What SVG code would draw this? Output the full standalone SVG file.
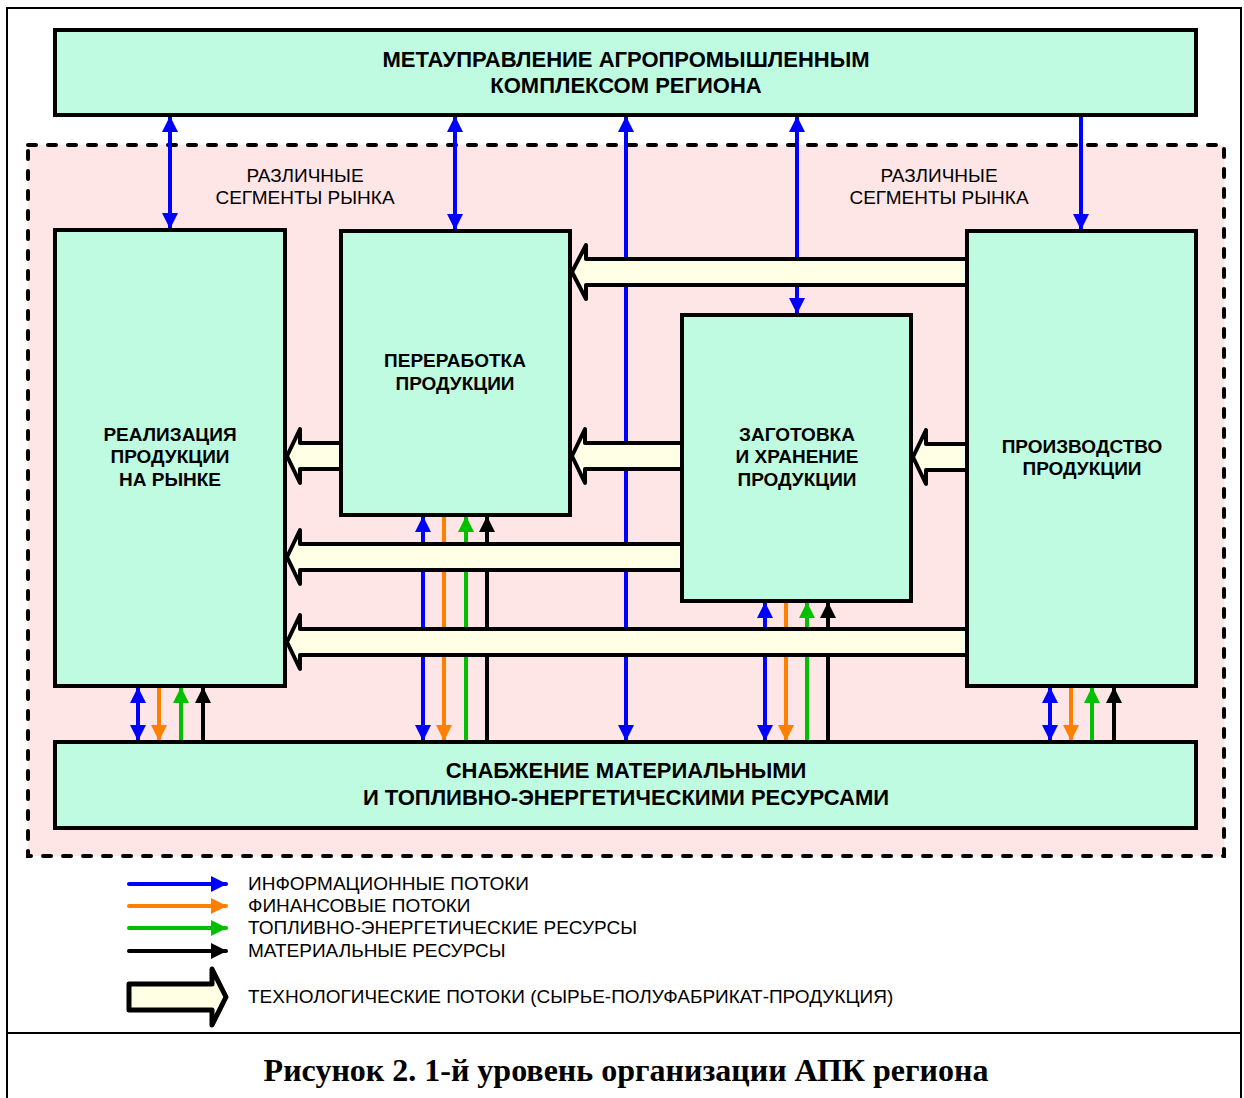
<svg xmlns="http://www.w3.org/2000/svg" width="1244" height="1098" viewBox="0 0 1244 1098">
<defs>
<style>
.box{fill:#BFFBE0;stroke:#000;stroke-width:4}
.tech{fill:#FFFFE6;stroke:#000;stroke-width:4;stroke-linejoin:round}
.bl{font-family:"Liberation Sans",Arial,sans-serif;font-weight:bold;font-size:19px;text-anchor:middle;fill:#000}
.big{font-size:22px}
.rg{font-family:"Liberation Sans",Arial,sans-serif;font-size:19px;fill:#000}
.ctr{text-anchor:middle}
.a{fill:none;stroke-width:4}
.b{stroke:#0000FF}.o{stroke:#FF8000}.g{stroke:#00C000}.k{stroke:#000}
</style>
<marker id="mb" viewBox="0 0 16 16" refX="15" refY="8" markerWidth="16" markerHeight="16" markerUnits="userSpaceOnUse" orient="auto-start-reverse"><path d="M0,0 L16,8 L0,16 z" fill="#0000FF"/></marker>
<marker id="mo" viewBox="0 0 16 16" refX="15" refY="8" markerWidth="16" markerHeight="16" markerUnits="userSpaceOnUse" orient="auto-start-reverse"><path d="M0,0 L16,8 L0,16 z" fill="#FF8000"/></marker>
<marker id="mg" viewBox="0 0 16 16" refX="15" refY="8" markerWidth="16" markerHeight="16" markerUnits="userSpaceOnUse" orient="auto-start-reverse"><path d="M0,0 L16,8 L0,16 z" fill="#00C000"/></marker>
<marker id="mk" viewBox="0 0 16 16" refX="15" refY="8" markerWidth="16" markerHeight="16" markerUnits="userSpaceOnUse" orient="auto-start-reverse"><path d="M0,0 L16,8 L0,16 z" fill="#000"/></marker>
</defs>
<rect x="0" y="0" width="1244" height="1098" fill="#fff"/>
<rect x="7" y="8" width="1234" height="1095" fill="none" stroke="#000" stroke-width="2"/>
<line x1="7" y1="1033" x2="1241" y2="1033" stroke="#000" stroke-width="2"/>
<rect id="region" x="28" y="145" width="1196" height="711" fill="#FFE6E6" stroke="#000" stroke-width="4" stroke-dasharray="8 12" stroke-linecap="round"/>
<text class="rg ctr" x="305" y="182">РАЗЛИЧНЫЕ</text>
<text class="rg ctr" x="305" y="204">СЕГМЕНТЫ РЫНКА</text>
<text class="rg ctr" x="939" y="182">РАЗЛИЧНЫЕ</text>
<text class="rg ctr" x="939" y="204">СЕГМЕНТЫ РЫНКА</text>
<g id="connectors">
<line class="a b" x1="170" y1="117" x2="170" y2="228" marker-start="url(#mb)" marker-end="url(#mb)"/>
<line class="a b" x1="455" y1="117" x2="455" y2="229" marker-start="url(#mb)" marker-end="url(#mb)"/>
<line class="a b" x1="626" y1="117" x2="626" y2="740" marker-start="url(#mb)" marker-end="url(#mb)"/>
<line class="a b" x1="797" y1="117" x2="797" y2="313" marker-start="url(#mb)" marker-end="url(#mb)"/>
<line class="a b" x1="1081" y1="117" x2="1081" y2="229" marker-end="url(#mb)"/>
<line class="a b" x1="138" y1="688" x2="138" y2="740" marker-start="url(#mb)" marker-end="url(#mb)"/>
<line class="a o" x1="159" y1="688" x2="159" y2="740" marker-end="url(#mo)"/>
<line class="a g" x1="181" y1="740" x2="181" y2="688" marker-end="url(#mg)"/>
<line class="a k" x1="203" y1="740" x2="203" y2="688" marker-end="url(#mk)"/>
<line class="a b" x1="423" y1="517" x2="423" y2="740" marker-start="url(#mb)" marker-end="url(#mb)"/>
<line class="a o" x1="444" y1="517" x2="444" y2="740" marker-end="url(#mo)"/>
<line class="a g" x1="466" y1="740" x2="466" y2="517" marker-end="url(#mg)"/>
<line class="a k" x1="487" y1="740" x2="487" y2="517" marker-end="url(#mk)"/>
<line class="a b" x1="765" y1="603" x2="765" y2="740" marker-start="url(#mb)" marker-end="url(#mb)"/>
<line class="a o" x1="786" y1="603" x2="786" y2="740" marker-end="url(#mo)"/>
<line class="a g" x1="807" y1="740" x2="807" y2="603" marker-end="url(#mg)"/>
<line class="a k" x1="828" y1="740" x2="828" y2="603" marker-end="url(#mk)"/>
<line class="a b" x1="1050" y1="688" x2="1050" y2="740" marker-start="url(#mb)" marker-end="url(#mb)"/>
<line class="a o" x1="1071" y1="688" x2="1071" y2="740" marker-end="url(#mo)"/>
<line class="a g" x1="1092" y1="740" x2="1092" y2="688" marker-end="url(#mg)"/>
<line class="a k" x1="1114" y1="740" x2="1114" y2="688" marker-end="url(#mk)"/>
<polygon class="tech" points="572,272 586,245 586,259 967,259 967,285 586,285 586,299"/>
<polygon class="tech" points="287,456 300,429 300,443 341,443 341,469 300,469 300,483"/>
<polygon class="tech" points="572,456 585,429 585,443 682,443 682,469 585,469 585,483"/>
<polygon class="tech" points="913,457 926,430 926,444 967,444 967,470 926,470 926,484"/>
<polygon class="tech" points="287,557 300,530 300,544 682,544 682,570 300,570 300,584"/>
<polygon class="tech" points="287,642 300,615 300,629 967,629 967,655 300,655 300,669"/>
</g>
<g id="meta"><rect class="box" x="55" y="30" width="1141" height="85"/>
<text class="bl big" x="626" y="67">МЕТАУПРАВЛЕНИЕ АГРОПРОМЫШЛЕННЫМ</text>
<text class="bl big" x="626" y="93">КОМПЛЕКСОМ РЕГИОНА</text></g>
<g id="realization"><rect class="box" x="55" y="230" width="230" height="456"/>
<text class="bl" x="170" y="441">РЕАЛИЗАЦИЯ</text>
<text class="bl" x="170" y="463">ПРОДУКЦИИ</text>
<text class="bl" x="170" y="486">НА РЫНКЕ</text></g>
<g id="processing"><rect class="box" x="341" y="231" width="229" height="284"/>
<text class="bl" x="455" y="367">ПЕРЕРАБОТКА</text>
<text class="bl" x="455" y="390">ПРОДУКЦИИ</text></g>
<g id="storage"><rect class="box" x="682" y="315" width="229" height="286"/>
<text class="bl" x="797" y="441">ЗАГОТОВКА</text>
<text class="bl" x="797" y="463">И ХРАНЕНИЕ</text>
<text class="bl" x="797" y="486">ПРОДУКЦИИ</text></g>
<g id="production"><rect class="box" x="967" y="231" width="229" height="455"/>
<text class="bl" x="1082" y="453">ПРОИЗВОДСТВО</text>
<text class="bl" x="1082" y="475">ПРОДУКЦИИ</text></g>
<g id="supply"><rect class="box" x="55" y="742" width="1141" height="86"/>
<text class="bl big" x="626" y="778">СНАБЖЕНИЕ МАТЕРИАЛЬНЫМИ</text>
<text class="bl big" x="626" y="805">И ТОПЛИВНО-ЭНЕРГЕТИЧЕСКИМИ РЕСУРСАМИ</text></g>
<g id="legend">
<line class="a b" x1="129" y1="884" x2="226" y2="884" stroke-linecap="round" marker-end="url(#mb)"/>
<line class="a o" x1="129" y1="906" x2="226" y2="906" stroke-linecap="round" marker-end="url(#mo)"/>
<line class="a g" x1="129" y1="928" x2="226" y2="928" stroke-linecap="round" marker-end="url(#mg)"/>
<line class="a k" x1="129" y1="951" x2="226" y2="951" stroke-linecap="round" marker-end="url(#mk)"/>
<polygon class="tech" style="stroke-width:5" points="226,997 212,969 212,984 129,984 129,1010 212,1010 212,1025"/>
<text class="rg" x="248" y="890">ИНФОРМАЦИОННЫЕ ПОТОКИ</text>
<text class="rg" x="248" y="912">ФИНАНСОВЫЕ ПОТОКИ</text>
<text class="rg" x="248" y="934">ТОПЛИВНО-ЭНЕРГЕТИЧЕСКИЕ РЕСУРСЫ</text>
<text class="rg" x="248" y="957">МАТЕРИАЛЬНЫЕ РЕСУРСЫ</text>
<text class="rg" x="248" y="1003">ТЕХНОЛОГИЧЕСКИЕ ПОТОКИ (СЫРЬЕ-ПОЛУФАБРИКАТ-ПРОДУКЦИЯ)</text>
</g>
<text x="626" y="1081" font-family="'Liberation Serif','Times New Roman',serif" font-weight="bold" font-size="32" text-anchor="middle">Рисунок 2. 1-й уровень организации АПК региона</text>
</svg>
